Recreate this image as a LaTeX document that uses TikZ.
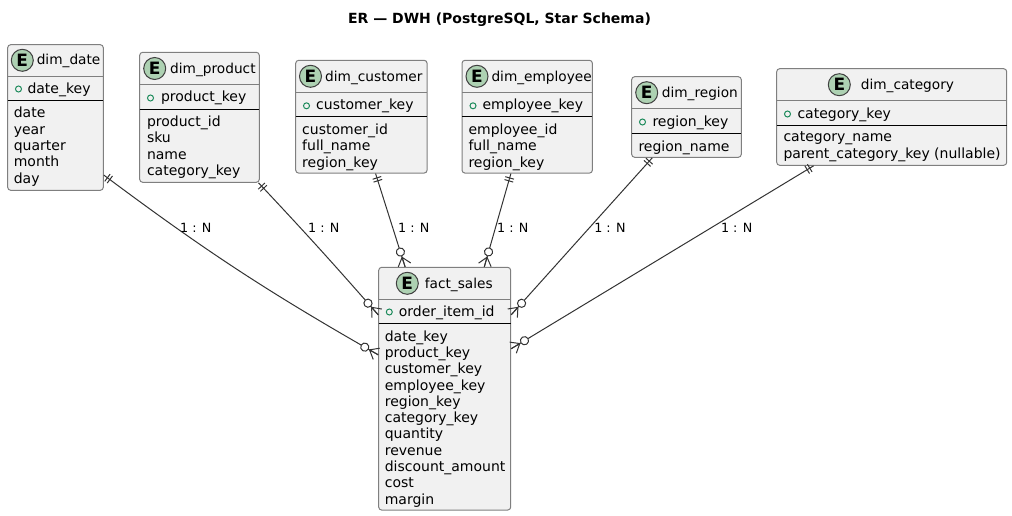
\documentclass[tikz,border=0pt]{standalone}
\usepackage{fontspec}
\setmainfont{DejaVu Sans}
\usetikzlibrary{decorations.markings}

\definecolor{box_fill}{HTML}{F1F1F1}
\definecolor{box_line}{HTML}{7F7F7F}
\definecolor{badge_fill}{HTML}{ADD1B2}
\definecolor{key_line}{HTML}{1B8A5A}

\begin{document}
\begin{tikzpicture}[x=1pt,y=-1pt,line width=1pt,
  entity_box/.style={draw=box_line,fill=box_fill,rounded corners=3pt,inner sep=0pt},
  badge_node/.style={circle,draw=black!75,fill=badge_fill,minimum size=22pt,inner sep=0pt,font=\fontsize{17}{17}\selectfont\bfseries},
  title_text/.style={anchor=base west,inner sep=0pt,font=\fontsize{13.7}{16}\selectfont},
  key_text/.style={anchor=base west,inner sep=0pt,font=\fontsize{14}{16}\selectfont},
  key_mark/.style={circle,draw=key_line,minimum size=6pt,inner sep=0pt},
  attr_text/.style={anchor=north west,align=left,inner sep=0pt,font=\fontsize{14}{16.3}\selectfont,execute at begin node=\strut},
  rel_label/.style={inner sep=0pt,font=\fontsize{12.7}{15}\selectfont},
  head_line/.style={draw=box_line},
  sep_line/.style={draw=black},
  one_many/.style={draw=black!80,postaction={decorate},decoration={markings,
    mark=at position 4.5pt with {\draw[black!80] (0,-4.5)--(0,4.5);},
    mark=at position 7.5pt with {\draw[black!80] (0,-4.5)--(0,4.5);},
    mark=at position -10pt with {\draw[black!80] (0,0)--(8,-6.5) (0,0)--(10,0) (0,0)--(8,6.5);},
    mark=at position -15.5pt with {\draw[black!80,fill=white] (0,0) circle (4.1pt);}}}]

  \useasboundingbox (0,0) rectangle (1012,516);

  \node[anchor=base,inner sep=0pt,font=\fontsize{14}{16}\selectfont\bfseries] (title) at (499.5,23.3) {ER — DWH (PostgreSQL, Star Schema)};

  % dimensions
  \node[entity_box,minimum width=95.6pt,minimum height=145.6pt] (dim_date) at (55.5,117.5) {};
  \draw[head_line] (7.7,76.3) -- (103.3,76.3);
  \draw[sep_line] (7.7,100.3) -- (103.3,100.3);
  \node[badge_node] (dim_date_e) at (22.3,60.3) {E};
  \node[title_text] (dim_date_t) at (36.3,65) {dim\_date};
  \node[key_mark] (dim_date_m) at (18.5,89) {};
  \node[key_text] (dim_date_k) at (27,93.5) {date\_key};
  \node[attr_text] (dim_date_a) at (13.3,106.7) {date\\year\\quarter\\month\\day};

  \node[entity_box,minimum width=119.6pt,minimum height=130pt] (dim_product) at (199.5,117.3) {};
  \draw[head_line] (139.7,84.3) -- (259.3,84.3);
  \draw[sep_line] (139.7,109.3) -- (259.3,109.3);
  \node[badge_node] (dim_product_e) at (154.7,68.5) {E};
  \node[title_text] (dim_product_t) at (169.7,73.3) {dim\_product};
  \node[key_mark] (dim_product_m) at (150.5,98) {};
  \node[key_text] (dim_product_k) at (160.5,102) {product\_key};
  \node[attr_text] (dim_product_a) at (146.5,115.5) {product\_id\\sku\\name\\category\_key};

  \node[entity_box,minimum width=131.4pt,minimum height=112.8pt] (dim_customer) at (361.4,116.7) {};
  \draw[head_line] (295.7,92.3) -- (427.1,92.3);
  \draw[sep_line] (295.7,117) -- (427.1,117);
  \node[badge_node] (dim_customer_e) at (310.5,76.3) {E};
  \node[title_text] (dim_customer_t) at (324.7,81.3) {dim\_customer};
  \node[key_mark] (dim_customer_m) at (306.5,105.8) {};
  \node[key_text] (dim_customer_k) at (315.7,110) {customer\_key};
  \node[attr_text] (dim_customer_a) at (301.7,123.3) {customer\_id\\full\_name\\region\_key};

  \node[entity_box,minimum width=130.4pt,minimum height=112.8pt] (dim_employee) at (527.2,116.7) {};
  \draw[head_line] (462,92.3) -- (592.4,92.3);
  \draw[sep_line] (462,117) -- (592.4,117);
  \node[badge_node] (dim_employee_e) at (477,76.3) {E};
  \node[title_text] (dim_employee_t) at (491,81.3) {dim\_employee};
  \node[key_mark] (dim_employee_m) at (473,105.8) {};
  \node[key_text] (dim_employee_k) at (482,110) {employee\_key};
  \node[attr_text] (dim_employee_a) at (468,123.3) {employee\_id\\full\_name\\region\_key};

  \node[entity_box,minimum width=109.6pt,minimum height=80.6pt] (dim_region) at (686.5,117) {};
  \draw[head_line] (631.7,108.7) -- (741.3,108.7);
  \draw[sep_line] (631.7,133.3) -- (741.3,133.3);
  \node[badge_node] (dim_region_e) at (646.7,92.7) {E};
  \node[title_text] (dim_region_t) at (661.3,97.5) {dim\_region};
  \node[key_mark] (dim_region_m) at (642.5,122) {};
  \node[key_text] (dim_region_k) at (652,126.3) {region\_key};
  \node[attr_text] (dim_region_a) at (638,139.6) {region\_name};

  \node[entity_box,minimum width=230pt,minimum height=96.6pt] (dim_category) at (891.7,117) {};
  \draw[head_line] (776.7,100.7) -- (1006.7,100.7);
  \draw[sep_line] (776.7,125.3) -- (1006.7,125.3);
  \node[badge_node] (dim_category_e) at (839.3,84.7) {E};
  \node[title_text] (dim_category_t) at (860.3,89.5) {dim\_category};
  \node[key_mark] (dim_category_m) at (787.5,114) {};
  \node[key_text] (dim_category_k) at (797,118.3) {category\_key};
  \node[attr_text] (dim_category_a) at (783,131.6) {category\_name\\parent\_category\_key (nullable)};

  % fact table
  \node[entity_box,minimum width=132pt,minimum height=242.7pt] (fact_sales) at (444.7,388.7) {};
  \draw[head_line] (378.7,299.3) -- (510.7,299.3);
  \draw[sep_line] (378.7,323.3) -- (510.7,323.3);
  \node[badge_node] (fact_sales_e) at (407.3,283.3) {E};
  \node[title_text] (fact_sales_t) at (424.3,288) {fact\_sales};
  \node[key_mark] (fact_sales_m) at (389.3,312) {};
  \node[key_text] (fact_sales_k) at (398.3,316.3) {order\_item\_id};
  \node[attr_text] (fact_sales_a) at (384.3,330) {date\_key\\product\_key\\customer\_key\\employee\_key\\region\_key\\category\_key\\quantity\\revenue\\discount\_amount\\cost\\margin};

  % relations
  \draw[one_many] (dim_date.-50.7) to[bend right=3.5] (fact_sales.153);
  \draw[one_many] (dim_product.-48.3) to[bend left=1] (fact_sales.132);
  \draw[one_many] (dim_customer.-76) -- (fact_sales.108);
  \draw[one_many] (dim_employee.-106.8) -- (fact_sales.72.3);
  \draw[one_many] (dim_region.-130.2) -- (fact_sales.48.4);
  \draw[one_many] (dim_category.-148.4) -- (fact_sales.31.9);

  \node[rel_label] (rel_date) at (195.8,228.3) {1 : N};
  \node[rel_label] (rel_product) at (323.8,228.3) {1 : N};
  \node[rel_label] (rel_customer) at (413.8,228.3) {1 : N};
  \node[rel_label] (rel_employee) at (512.8,228.3) {1 : N};
  \node[rel_label] (rel_region) at (610,228.3) {1 : N};
  \node[rel_label] (rel_category) at (736.7,228.3) {1 : N};

\end{tikzpicture}
\end{document}
